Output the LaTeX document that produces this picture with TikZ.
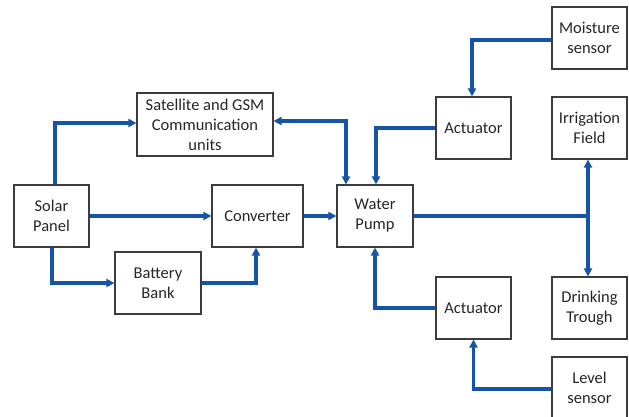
\documentclass[tikz,border=0pt]{standalone}
\usepackage{fontspec}
\setmainfont{Carlito}
\usetikzlibrary{arrows.meta}
\definecolor{flow}{RGB}{22,84,166}
\definecolor{edge}{RGB}{60,60,60}
\definecolor{txt}{RGB}{38,38,38}
\tikzset{
  blk/.style={draw=edge, line width=1.1pt, fill=white, align=center, inner sep=0pt,
    font=\fontsize{16.5}{20}\selectfont, text=txt},
  wire/.style={draw=flow, line width=3.3pt, line join=miter},
  tipend/.style={-{Triangle[length=8pt,width=8pt]}},
}
\begin{document}
\begin{tikzpicture}[x=1pt,y=-1pt]
\useasboundingbox (0,0) rectangle (629,417);
\clip (0,0) rectangle (629,417);
\node[blk, minimum width=75pt, minimum height=62pt] (solar) at (51.5,216) {Solar\\Panel};
\node[blk, minimum width=136pt, minimum height=63pt] (sat) at (205,124.5) {Satellite and GSM\\Communication\\units};
\node[blk, minimum width=91pt, minimum height=62pt] (conv) at (257.5,216) {Converter};
\node[blk, minimum width=86pt, minimum height=62pt] (batt) at (158,283) {Battery\\Bank};
\node[blk, minimum width=76pt, minimum height=62pt] (pump) at (375,216) {Water\\Pump};
\node[blk, minimum width=75pt, minimum height=62pt] (moist) at (589.5,38) {Moisture\\sensor};
\node[blk, minimum width=75pt, minimum height=62pt] (act1) at (473.5,128) {Actuator};
\node[blk, minimum width=75pt, minimum height=62pt] (irr) at (589.5,128) {Irrigation\\Field};
\node[blk, minimum width=75pt, minimum height=62pt] (act2) at (473.5,308) {Actuator};
\node[blk, minimum width=75pt, minimum height=62pt] (drink) at (589.5,308) {Drinking\\Trough};
\node[blk, minimum width=75pt, minimum height=62pt] (level) at (589.5,388) {Level\\sensor};

\draw[wire, tipend] ([xshift=3.5pt]solar.north) |- ([yshift=1.5pt]sat.west);
\draw[wire, tipend] (solar.east) -- (conv.west);
\draw[wire, tipend] ([xshift=0.5pt]solar.south) |- (batt.west);
\draw[wire, tipend] (batt.east) -| ([xshift=-1.5pt]conv.south);
\draw[wire, tipend] (conv.east) -- (pump.west);
\draw[wire, {Triangle[length=8pt,width=8pt]}-{Triangle[length=8pt,width=8pt]}] ([yshift=3.5pt]sat.east) -| ([xshift=-29pt]pump.north);
\draw[wire, tipend] (act1.west) -| ([xshift=1pt]pump.north);
\draw[wire, tipend] ([yshift=-2pt]moist.west) -| ([xshift=-1.5pt]act1.north);
\draw[wire, tipend] (act2.west) -| (pump.south);
\draw[wire, tipend] ([yshift=-1pt]level.west) -| (act2.south);
\coordinate (junc) at ([xshift=-1.5pt]pump.east -| irr.south);
\draw[wire] (pump.east) -- (junc);
\draw[wire, tipend] (junc) -- ([xshift=-1.5pt]irr.south);
\draw[wire, tipend] (junc) -- ([xshift=-1.5pt]drink.north);
\end{tikzpicture}
\end{document}
